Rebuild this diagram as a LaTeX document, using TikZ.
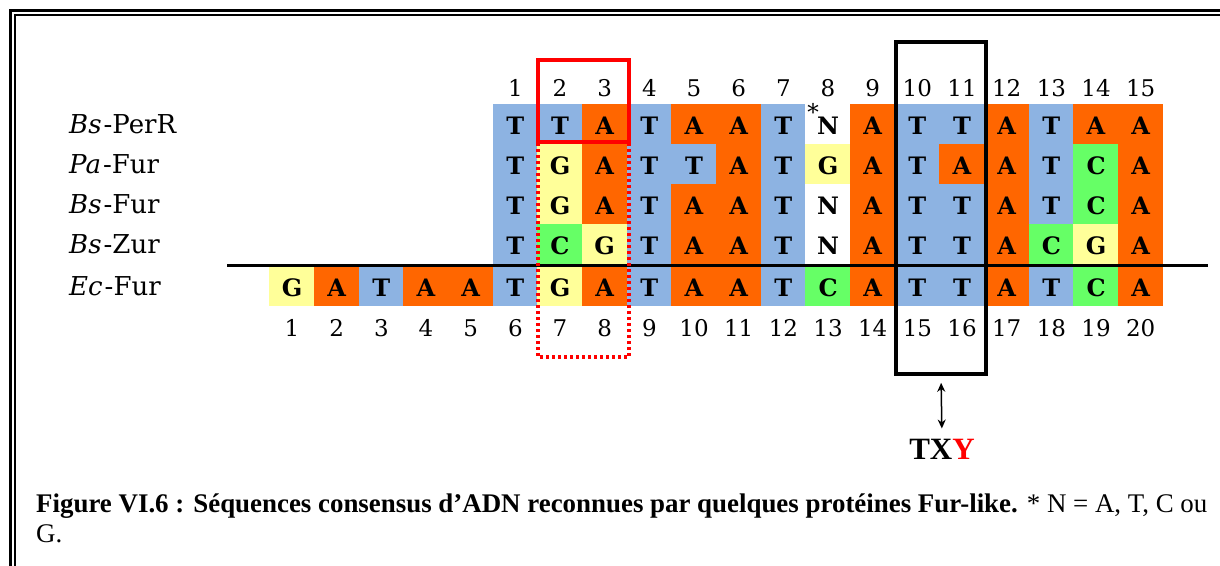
\documentclass[tikz,border=0pt]{standalone}
\usepackage{fontspec}
\setmainfont{Liberation Serif}
\newfontfamily\dvs{DejaVu Serif}
\usetikzlibrary{arrows.meta}
\definecolor{nb}{HTML}{8DB3E2}
\definecolor{no}{HTML}{FF6600}
\definecolor{ny}{HTML}{FFFF99}
\definecolor{ng}{HTML}{66FF66}
\begin{document}
\begin{tikzpicture}[x=1pt,y=-1pt,
  cell/.style={minimum width=45.3pt, minimum height=40.6pt, inner sep=0pt, text height=20pt, text depth=0pt, font=\dvs\bfseries\fontsize{24}{24}\selectfont},
  num/.style={inner sep=0pt, anchor=base, font=\dvs\fontsize{23}{23}\selectfont},
  lab/.style={inner sep=0pt, anchor=base west, font=\dvs\fontsize{26}{26}\selectfont},
  frameline/.style={black}]
\useasboundingbox (0,0) rectangle (1220,565);
\fill[white] (0,0) rectangle (1220,565);
\begin{scope}
  \clip (0,0) rectangle (1220,565);
  \draw[frameline, line width=2.6pt] (10.3,10.3) rectangle (1260,620);
  \draw[frameline, line width=2pt] (15,15) rectangle (1250,610);
\end{scope}
% labels
\node[lab] (l1) at (69,133) {{\itshape Bs}\kern2pt-PerR};
\node[lab] (l2) at (69,173) {{\itshape Pa}\kern2pt-Fur};
\node[lab] (l3) at (69,213.5) {{\itshape Bs}\kern2pt-Fur};
\node[lab] (l4) at (69,253.5) {{\itshape Bs}\kern2pt-Zur};
\node[lab] (l5) at (69,295) {{\itshape Ec}\kern2pt-Fur};
% top numbers
\foreach \i in {1,...,15} \node[num] (t\i) at ({493+(\i-0.5)*44.67},96) {\i};
% rows
\foreach \l/\c [count=\i] in {T/nb,T/nb,A/no,T/nb,A/no,A/no,T/nb,N/white,A/no,T/nb,T/nb,A/no,T/nb,A/no,A/no}
  \node[cell, fill=\c] (r1c\i) at ({493+(\i-0.5)*44.67},124) {\l};
\foreach \l/\c [count=\i] in {T/nb,G/ny,A/no,T/nb,T/nb,A/no,T/nb,G/ny,A/no,T/nb,A/no,A/no,T/nb,C/ng,A/no}
  \node[cell, fill=\c] (r2c\i) at ({493+(\i-0.5)*44.67},164) {\l};
\foreach \l/\c [count=\i] in {T/nb,G/ny,A/no,T/nb,A/no,A/no,T/nb,N/white,A/no,T/nb,T/nb,A/no,T/nb,C/ng,A/no}
  \node[cell, fill=\c] (r3c\i) at ({493+(\i-0.5)*44.67},204) {\l};
\foreach \l/\c [count=\i] in {T/nb,C/ng,G/ny,T/nb,A/no,A/no,T/nb,N/white,A/no,T/nb,T/nb,A/no,C/ng,G/ny,A/no}
  \node[cell, fill=\c] (r4c\i) at ({493+(\i-0.5)*44.67},244) {\l};
\foreach \l/\c [count=\i] in {G/ny,A/no,T/nb,A/no,A/no,T/nb,G/ny,A/no,T/nb,A/no,A/no,T/nb,C/ng,A/no,T/nb,T/nb,A/no,T/nb,C/ng,A/no}
  \node[cell, fill=\c] (r5c\i) at ({269.67+(\i-0.5)*44.67},286) {\l};
% bottom numbers
\foreach \i in {1,...,20} \node[num] (b\i) at ({269.67+(\i-0.5)*44.67},336) {\i};
% asterisk
\node[inner sep=0pt, font=\dvs\fontsize{23}{23}\selectfont] (ast) at (813,112) {*};
% separator line
\coordinate (hl) at (227,265.5);
\coordinate (hr) at (1208,265.5);
\draw[line width=2.5pt] (hl) -- (hr);
% red boxes
\draw[red, line width=3.6pt] (538,60) rectangle (629,142);
\draw[red, line width=3.2pt, dash pattern=on 3pt off 3pt] (538,143) -- (538,357) -- (629,357) -- (629,143);
% black box
\node[draw, line width=3.6pt, minimum width=90pt, minimum height=332pt, inner sep=0pt] (bbox) at (941,208) {};
% TXY
\node[inner sep=0pt, anchor=base, font=\bfseries\fontsize{31}{31}\selectfont] (txy) at (942,459) {TX\textcolor{red}{Y}};
\draw[{Stealth[length=9pt,width=8pt]}-{Stealth[length=9pt,width=8pt]}, line width=1.5pt, shorten <=7pt, shorten >=10pt] (bbox.south) -- (txy.north);
% caption
\node[inner sep=0pt, anchor=base west, font=\fontsize{26.9}{27}\selectfont] (cap1) at (36,512) {\textbf{Figure VI.6 : Séquences consensus d’ADN reconnues par quelques protéines Fur-like.} * N = A, T, C ou};
\node[inner sep=0pt, anchor=base west, font=\fontsize{26.9}{27}\selectfont] (cap2) at (36,542) {G.};
\end{tikzpicture}
\end{document}
